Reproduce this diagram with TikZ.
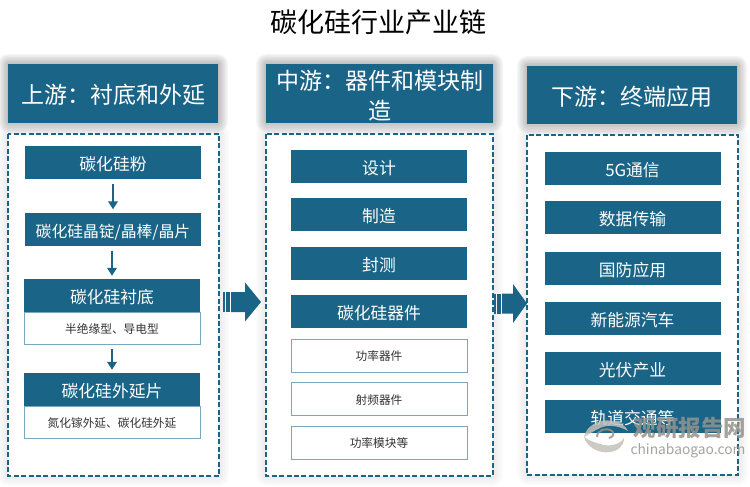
\documentclass[tikz,border=0pt]{standalone}
\usepackage{fontspec}
\setmainfont{Noto Sans CJK SC}
\usepackage{tikz}
\usetikzlibrary{arrows.meta}
\definecolor{mainblue}{RGB}{26,100,135}
\definecolor{edgeblue}{RGB}{122,166,190}
\definecolor{markgray}{RGB}{150,148,142}
\definecolor{swirlgray}{RGB}{196,193,185}
\def\softshadow[#1](#2,#3)(#4,#5) %Syntax: [opacity](left,top)(right,bottom)
{ \foreach \g in {10,8.5,7,5.5,4,2.5,1}
	\fill[black,opacity=#1,rounded corners=\g pt] (#2-\g,#3-\g) rectangle (#4+\g,#5+\g); }
\def\blockarrow(#1,#2)(#3:#4:#5) %Syntax: (tail x,mid y)(stem start:head start:tip)
{ \fill[mainblue] (#3,#2-10)--(#4,#2-10)--(#4,#2-19.5)--(#5,#2)--(#4,#2+19.5)--(#4,#2+10)--(#3,#2+10)--cycle;
	\foreach \s in {0,2.6,5.2}
		\fill[mainblue] (#1+\s,#2-10) rectangle (#1+\s+2,#2+10); }
\tikzset{
	header/.style={fill=mainblue,text=white,font=\fontsize{23}{29}\selectfont,align=center,minimum height=59pt,inner sep=0pt},
	headerone/.style={header,text height=21pt,text depth=0.6pt},
	panel/.style={draw=mainblue,fill=white,line width=1.6pt,dash pattern=on 5pt off 2.4pt},
	bluebox/.style={fill=mainblue,text=white,font=\fontsize{16.8}{20}\selectfont,minimum width=176pt,minimum height=33pt,inner sep=0pt,text height=17pt,text depth=0.4pt},
	whitebox/.style={draw=edgeblue,fill=white,line width=0.9pt,text=black!80,font=\fontsize{11.7}{14}\selectfont,minimum width=176pt,minimum height=33pt,inner sep=0pt,text height=11pt,text depth=0.1pt},
	flow/.style={draw=mainblue,line width=2.4pt,-{Triangle[length=8pt,width=9.5pt]},shorten >=3pt,shorten <=5pt},
}
\begin{document}
\begin{tikzpicture}[x=1pt,y=-1pt]
	\useasboundingbox (0,0) rectangle (750,487);

	%title
	\node (title) at (378,22) {\fontsize{27}{32}\selectfont 碳化硅行业产业链};

	%shadows
	\softshadow[0.04](8,64)(218,122)
	\softshadow[0.04](266,64)(493,122)
	\softshadow[0.04](527,66)(737,123)
	\softshadow[0.01](8,134)(219,476)
	\softshadow[0.01](266,134)(493,476)
	\softshadow[0.01](527,135)(738,475)

	%left column
	\node[headerone,minimum width=210pt] (upper) at (113,93.5) {上游：衬底和外延};
	\draw[panel] (8,134) rectangle (219,476);
	\node[bluebox] (powder) at (113,162.5) {碳化硅粉};
	\node[bluebox,font=\fontsize{15.8}{18}\selectfont] (ingot) at (113,229) {碳化硅晶锭/晶棒/晶片};
	\node[whitebox,minimum height=32pt] (subtext) at (112,328) {半绝缘型、导电型};
	\node[bluebox] (substrate) at (112,295.5) {碳化硅衬底};
	\node[whitebox,minimum height=32pt] (epitext) at (112,422) {氮化镓外延、碳化硅外延};
	\node[bluebox] (epi) at (112,389.5) {碳化硅外延片};
	\draw[flow] (powder)--(ingot);
	\draw[flow] (substrate |- ingot.south)--(substrate.north);
	\draw[flow,xshift=2pt] (subtext)--(epi);

	%middle column
	\node[header,minimum width=227pt] (middle) at (379.5,93.5) {\rule{0pt}{24pt}中游：器件和模块制\\[1pt]造};
	\draw[panel] (266,134) rectangle (493,476);
	\node[bluebox] (design) at (379,166) {设计};
	\node[bluebox] (fab) at (379,214.5) {制造};
	\node[bluebox] (test) at (379,263.5) {封测};
	\node[bluebox] (device) at (379,311.5) {碳化硅器件};
	\node[whitebox] (power) at (379,355.5) {功率器件};
	\node[whitebox] (radio) at (379,399) {射频器件};
	\node[whitebox] (module) at (379,442.5) {功率模块等};

	%right column
	\node[headerone,minimum width=210pt,minimum height=58pt] (lower) at (632,95) {下游：终端应用};
	\draw[panel] (527,135) rectangle (738,475);
	\node[bluebox] (comm) at (632.5,168) {5G通信};
	\node[bluebox] (data) at (632.5,217.5) {数据传输};
	\node[bluebox] (defense) at (632.5,268.5) {国防应用};
	\node[bluebox] (car) at (632.5,318.5) {新能源汽车};
	\node[bluebox] (solar) at (632.5,368) {光伏产业};
	\node[bluebox] (rail) at (632.5,416.5) {轨道交通等};

	%arrows between columns
	\blockarrow(223,302)(231:245:261)
	\blockarrow(494,303.5)(502:513:527)

	%watermark
	\begin{scope}[opacity=0.85]
		\fill[swirlgray] (584,437) .. controls (586,426) and (600,418) .. (612,421) .. controls (620,422) and (626,426) .. (628,431) .. controls (620,426) and (608,424) .. (600,428) .. controls (594,431) and (589,434) .. (584,437);
		\fill[swirlgray] (584,437) .. controls (586,446) and (598,454) .. (610,452) .. controls (618,451) and (624,446) .. (624,438) .. controls (620,445) and (608,447) .. (600,444) .. controls (593,442) and (588,440) .. (584,437);
		\draw[markgray,line width=2pt] (597,437) .. controls (597,430) and (606,427) .. (612,431) .. controls (615,434) and (613,437) .. (609,438);
		\node[text=markgray,font=\fontsize{22.5}{26}\bfseries\selectfont,inner sep=0pt] (markcn) at (690,428) {观研报告网};
		\node[text=markgray,font=\fontsize{13.8}{18}\selectfont,inner sep=0pt] (markurl) at (688,451) {chinabaogao.com};
	\end{scope}

	%\draw[help lines,step=50] (0,0) grid (750,487);
\end{tikzpicture}
\end{document}
